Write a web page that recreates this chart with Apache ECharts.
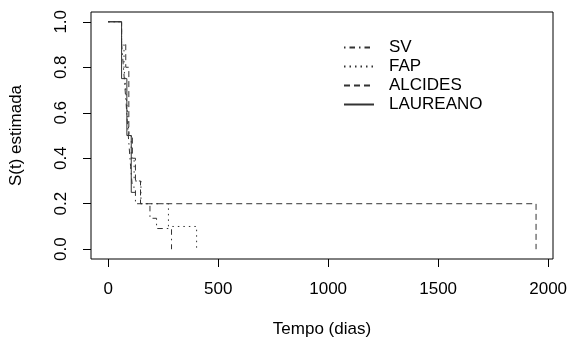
<!DOCTYPE html>
<html><head><meta charset="utf-8">
<script src="https://cdn.jsdelivr.net/npm/echarts@6/dist/echarts.min.js"></script>
<style>html,body{margin:0;padding:0;background:#fff}#c{width:570px;height:338px}</style>
</head><body><div id="c"></div>
<script>
// Kaplan-Meier step data (time in days, estimated survival after the event)
const seriesNames = ['SV', 'FAP', 'ALCIDES', 'LAUREANO'];
const svTimes = [61, 68, 75, 82, 88, 95, 102, 110, 124, 190, 220, 288];
const svSurv  = [0.909, 0.818, 0.727, 0.636, 0.545, 0.455, 0.364, 0.273, 0.2, 0.136, 0.091, 0];
const fapTimes = [61, 72, 80, 88, 95, 105, 118, 149, 274, 402];
const fapSurv  = [0.9, 0.8, 0.7, 0.6, 0.5, 0.4, 0.3, 0.2, 0.1, 0];
const alcTimes = [61, 80, 94, 110, 124, 147, 1945];
const alcSurv  = [0.9, 0.8, 0.5, 0.4, 0.3, 0.2, 0];
const lauTimes = [61, 85, 105];
const lauSurv  = [0.75, 0.5, 0.25];
const lauEnd = 124;
const xTicks = [0, 500, 1000, 1500, 2000];
const yTicks = [0, 0.2, 0.4, 0.6, 0.8, 1.0];

function steps(times, surv, endTime) {
  const pts = [[0, 1]];
  let prev = 1;
  for (let i = 0; i < times.length; i++) {
    pts.push([times[i], prev]);
    pts.push([times[i], surv[i]]);
    prev = surv[i];
  }
  if (endTime !== undefined) pts.push([endTime, prev]);
  return pts;
}

const FONT = 'Liberation Sans, Arial, Helvetica, sans-serif';
const LINE = '#333';
const chart = echarts.init(document.getElementById('c'), null, {renderer: 'canvas'});
function mk(name, data, type) {
  return {
    name, type: 'line', data, symbol: 'none', animation: false,
    lineStyle: {color: LINE, width: 1, type: type},
    itemStyle: {color: LINE}
  };
}
chart.setOption({
  animation: false,
  backgroundColor: '#fff',
  grid: {left: 91, right: 17, top: 12, bottom: 79, show: true, borderColor: '#000', borderWidth: 1,
    backgroundColor: 'transparent', containLabel: false, outerBoundsMode: 'none'},
  legend: {
    orient: 'vertical', left: 338, top: 33, itemWidth: 30, itemHeight: 14, itemGap: 0,
    data: seriesNames,
    itemStyle: {opacity: 0},
    textStyle: {fontFamily: FONT, fontSize: 17, lineHeight: 19, color: '#000', padding: [0, 0, 0, 10]}
  },
  xAxis: {
    type: 'value', min: -78, max: 2022,
    name: 'Tempo (dias)', nameLocation: 'middle', nameGap: 62,
    nameTextStyle: {fontFamily: FONT, fontSize: 17, color: '#000'},
    axisLine: {show: false, onZero: false},
    splitLine: {show: false},
    axisTick: {show: true, length: 8, lineStyle: {color: '#000'}, customValues: xTicks},
    axisLabel: {fontFamily: FONT, fontSize: 17, color: '#000', margin: 22, customValues: xTicks,
      formatter: v => String(v)}
  },
  yAxis: {
    type: 'value', min: -0.043, max: 1.043,
    name: 'S(t) estimada', nameLocation: 'middle', nameGap: 66, nameRotate: 90,
    nameTextStyle: {fontFamily: FONT, fontSize: 17, color: '#000'},
    axisLine: {show: false, onZero: false},
    splitLine: {show: false},
    axisTick: {show: true, length: 8, lineStyle: {color: '#000'}, customValues: yTicks},
    axisLabel: {fontFamily: FONT, fontSize: 17, color: '#000', margin: 21, rotate: 90,
      customValues: yTicks, formatter: v => v.toFixed(1)}
  },
  series: [
    mk('SV', steps(svTimes, svSurv), [1.5, 4, 5.5, 4]),
    mk('FAP', steps(fapTimes, fapSurv), [1.5, 4]),
    mk('ALCIDES', steps(alcTimes, alcSurv), [6, 4]),
    mk('LAUREANO', steps(lauTimes, lauSurv, lauEnd), 'solid')
  ]
});
</script></body></html>
